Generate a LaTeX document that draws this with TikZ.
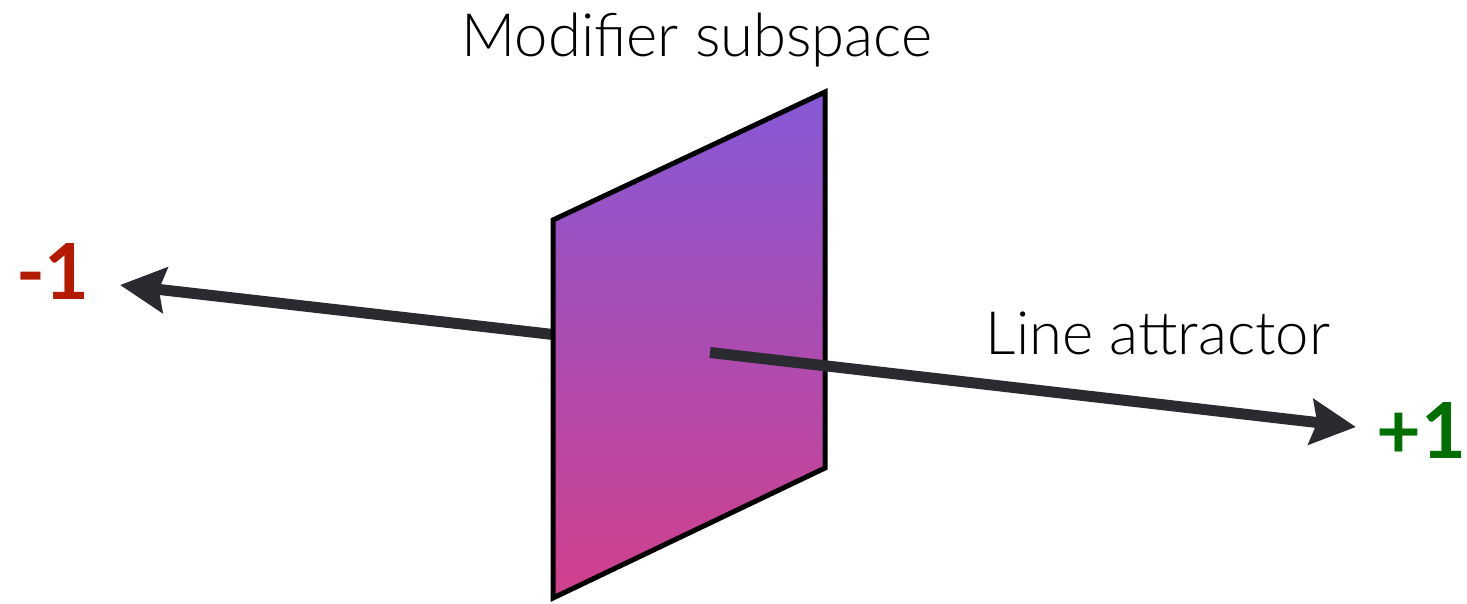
\documentclass[tikz,border=0pt]{standalone}
\usepackage{fontspec}
\setmainfont{Lato}[UprightFont={* Light}, BoldFont={* Bold}]
\usetikzlibrary{arrows.meta}
\definecolor{axisgray}{RGB}{42,43,48}
\definecolor{minusred}{RGB}{180,26,0}
\definecolor{plusgreen}{RGB}{0,110,0}
\definecolor{planetop}{RGB}{134,88,214}
\definecolor{planebot}{RGB}{210,64,140}
\begin{document}
\begin{tikzpicture}[x=0.01cm, y=-0.01cm, >={Stealth[length=0.45cm, width=0.45cm, inset=0.06cm]}]
    \useasboundingbox (0,0) rectangle (1467,603);

    \coordinate (lefttip) at (120,285);
    \coordinate (righttip) at (1356,427);
    \coordinate (leftfoot) at (553,334.5);
    \coordinate (rightfoot) at (710,352.5);

    % axis behind the plane
    \draw[->, line width=0.11cm, axisgray] (leftfoot) -- (lefttip);

    \shade[top color=planetop, bottom color=planebot]
        (553,220) -- (825,92) -- (825,468) -- (553,598) -- cycle;
    \draw[line width=0.05cm, black]
        (553,220) -- (825,92) -- (825,468) -- (553,598) -- cycle;

    \draw[->, line width=0.11cm, axisgray] (rightfoot) -- (righttip);

    \node (plane) at (697,40) {\fontsize{17}{20}\selectfont Modifier subspace};
    \node (attractor) at (1158,333) {\fontsize{17}{20}\selectfont Line attractor};
    \node[minusred] (minus) at (53,271) {\fontsize{22}{26}\selectfont\bfseries -1};
    \node[plusgreen] (plus) at (1421,430) {\fontsize{22}{26}\selectfont\bfseries +1};
\end{tikzpicture}
\end{document}
